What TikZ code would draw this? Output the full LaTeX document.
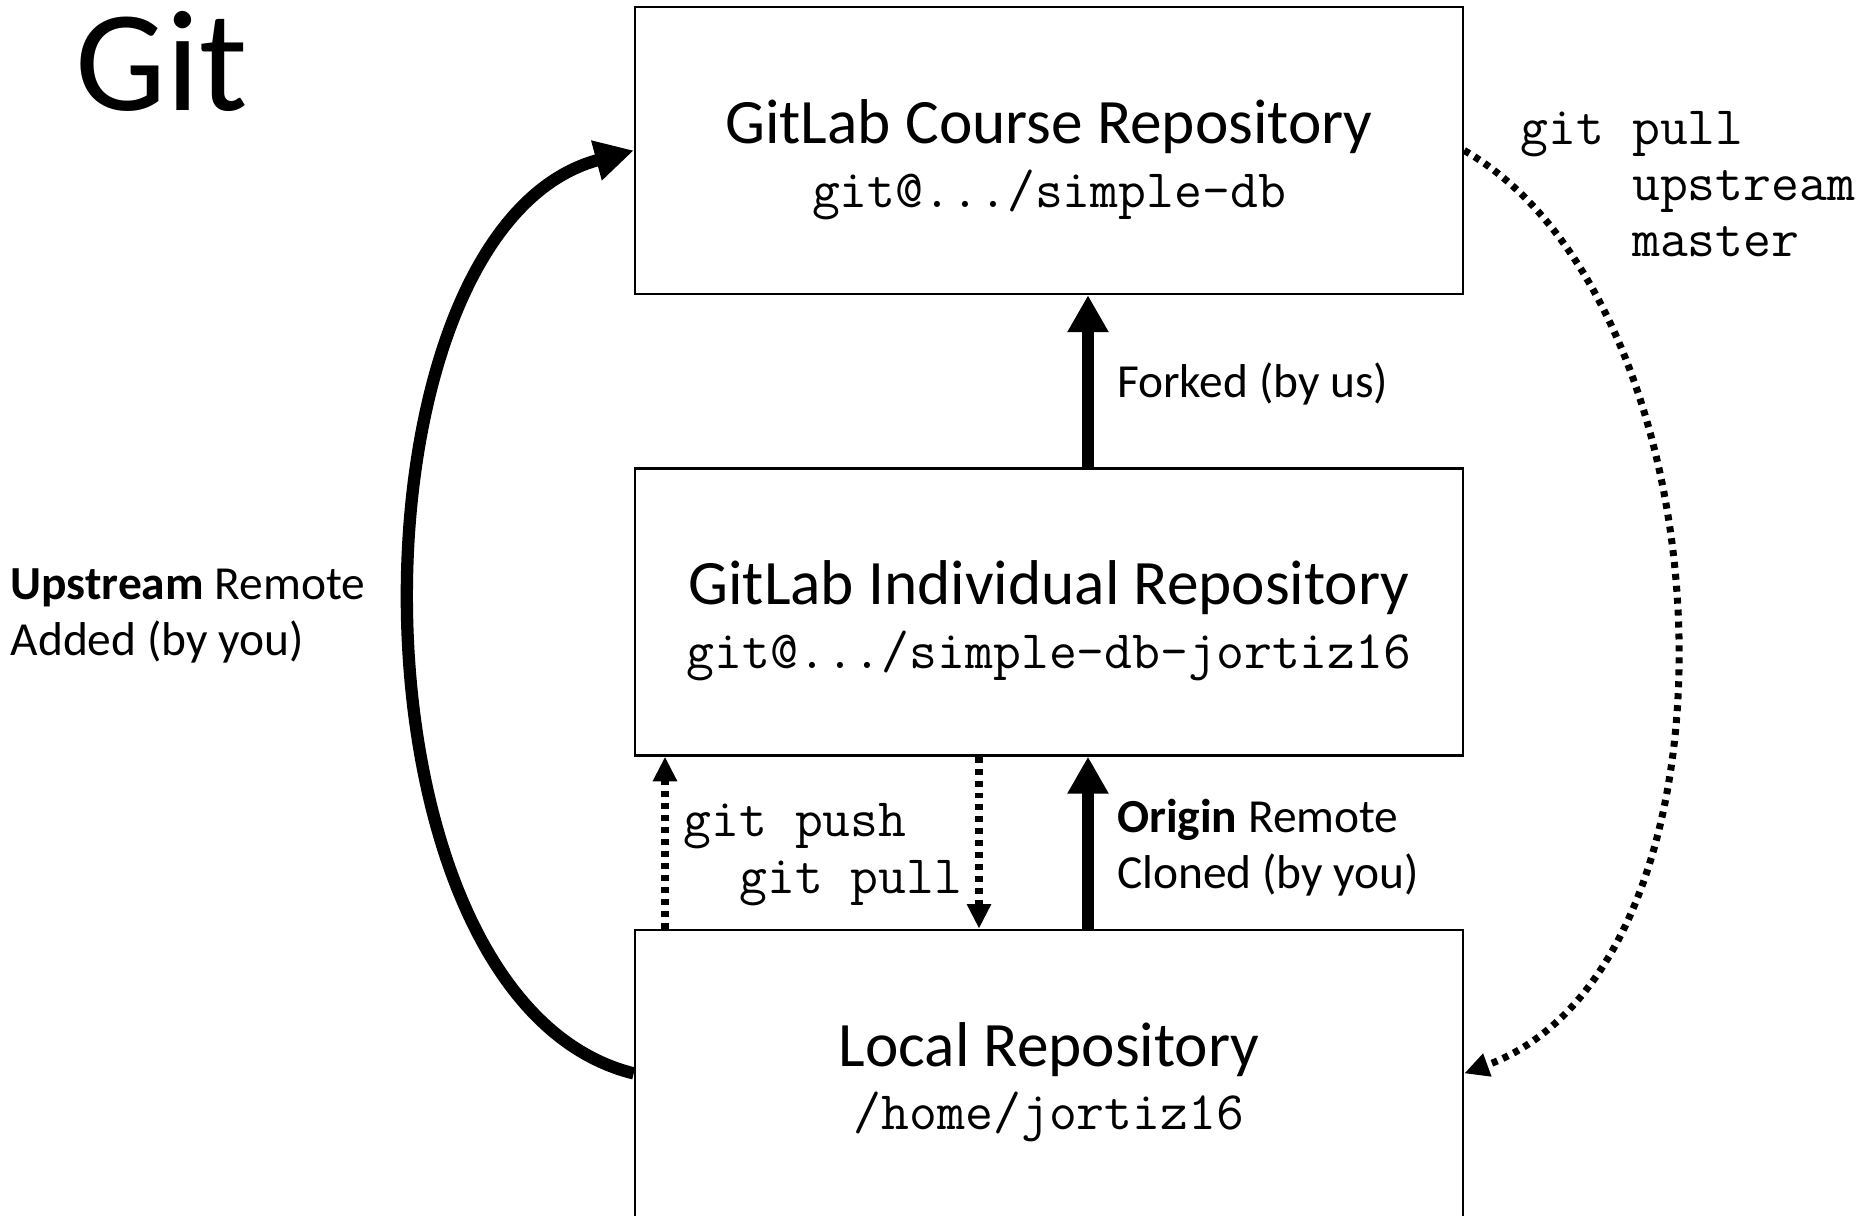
\documentclass[tikz,border=0pt]{standalone}
\usepackage{fontspec}
\setmainfont{Carlito}
\usepackage{tikz}
\usetikzlibrary{positioning,arrows.meta}

\tikzset{
	repo/.style = {draw, line width=0.7pt, minimum width=8.28cm, minimum height=2.87cm, align=center, inner sep=0pt, font=\ttfamily\fontsize{15.4}{18.2}\selectfont},
	bigarrow/.style = {line width=3.5pt, -{Triangle[width=11pt,length=10.5pt]}},
	dotarrow/.style = {line width=2pt, dash pattern=on 1.7pt off 1.7pt, -{Triangle[width=6.5pt,length=7pt]}},
	lbl/.style = {inner sep=0pt, align=left, font=\fontsize{13.5}{15.9}\selectfont},
	cmd/.style = {inner sep=0pt, align=left, font=\ttfamily\fontsize{15.4}{16}\selectfont}
}
\newcommand{\reponame}[1]{{\rmfamily\fontsize{18}{18.2}\selectfont\rule{0pt}{17.5pt}#1}}

\begin{document}
\begin{tikzpicture}
	\useasboundingbox (0,0) rectangle (18.72,12.16);
	\node[anchor=base west, inner sep=0pt, font=\fontsize{41}{41}\selectfont] (title) at (0.75,11.05) {Git};
	% the three repositories
	\node[repo] (course) at (10.49,10.655) {\reponame{GitLab Course Repository}\\git@.../simple-db};
	\node[repo, below=1.72cm of course] (indiv) {\reponame{GitLab Individual Repository}\\git@.../simple-db-jortiz16};
	\node[repo, below=1.72cm of indiv] (local) {\reponame{Local Repository}\\/home/jortiz16};
	% arrows between them
	\draw[bigarrow] ([xshift=0.39cm]indiv.north) -- ([xshift=0.39cm]course.south) node[lbl, midway, right=0.23cm, yshift=-0.03cm] {Forked (by us)};
	\draw[bigarrow] ([xshift=0.39cm]local.north) -- ([xshift=0.39cm]indiv.south) node[lbl, midway, right=0.23cm, yshift=-0.05cm] {\textbf{Origin} Remote\\Cloned (by you)};
	\draw[dotarrow] ([xshift=-3.84cm]local.north) -- ([xshift=-3.84cm]indiv.south) node[cmd, midway, right=0.15cm, yshift=-0.12cm] {git push\\\hphantom{gi}git pull};
	\draw[dotarrow] ([xshift=-0.70cm]indiv.south) -- ([xshift=-0.70cm]local.north);
	% remotes round the outside
	\draw[bigarrow, -{Triangle[width=11pt,length=11pt]}] (local.west) .. controls +(-2.97,0.73) and +(-2.96,-0.79) .. (course.west);
	\node[lbl, anchor=west] (upstr) at (0.10,6.00) {\textbf{Upstream} Remote\\Added (by you)};
	\draw[dotarrow] (course.east) .. controls +(2.71,-1.565) and +(2.94,1.07) .. (local.east);
	\node[cmd, anchor=west] (upcmd) at (15.20,10.32) {git pull\\\hphantom{gitx}upstream\\\hphantom{gitx}master};
\end{tikzpicture}
\end{document}
